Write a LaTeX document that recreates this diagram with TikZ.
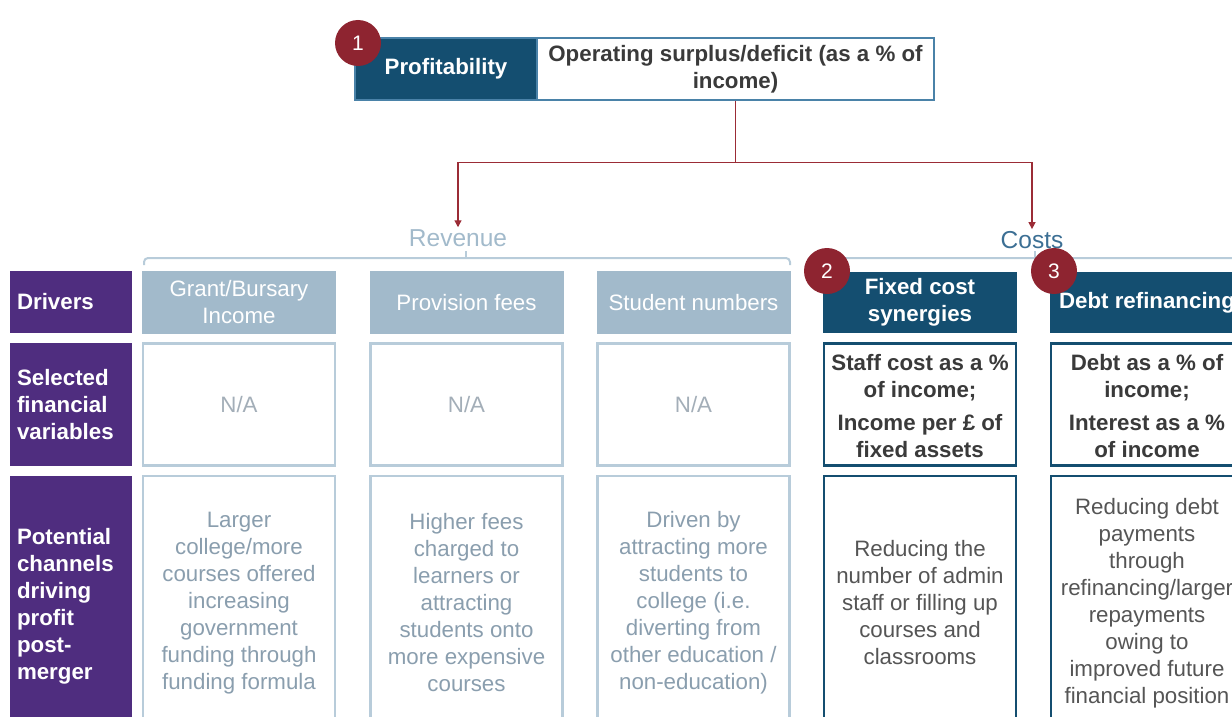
\documentclass[tikz,border=0pt]{standalone}
\usepackage{fontspec}
\setmainfont{Liberation Sans}
\usetikzlibrary{arrows.meta}
\definecolor{dblue}{HTML}{144E70}
\definecolor{topborder}{HTML}{4A82A8}
\definecolor{purp}{HTML}{4F2D7F}
\definecolor{cred}{HTML}{8E2430}
\definecolor{conred}{HTML}{9B2C36}
\definecolor{lblue}{HTML}{A2BACB}
\definecolor{lborder}{HTML}{B8CCDA}
\definecolor{ltext}{HTML}{8A9EAE}
\definecolor{natext}{HTML}{A3AEB8}
\definecolor{dtext}{HTML}{3A3A3A}
\definecolor{ctext}{HTML}{555555}
\definecolor{costlab}{HTML}{3C6F94}
\begin{document}
\begin{tikzpicture}[x=1pt,y=-1pt,
  txt/.style={font=\fontsize{22.3}{27}\selectfont, align=center, inner sep=0pt},
  btxt/.style={font=\fontsize{22.3}{27}\selectfont\bfseries, align=center, inner sep=0pt},
  purpbox/.style={btxt, fill=purp, text=white, minimum width=122pt, align=left, text width=108pt},
  revdrv/.style={txt, fill=lblue, text=white, minimum width=194pt, minimum height=63pt},
  revbox/.style={txt, draw=lborder, line width=2.5pt, fill=white, text=ltext, minimum width=192pt},
  costdrv/.style={btxt, fill=dblue, text=white, minimum width=194pt, minimum height=61pt},
  costbox/.style={draw=dblue, line width=2.8pt, fill=white, minimum width=192pt},
  badge/.style={circle, fill=cred, text=white, minimum size=46pt, inner sep=0pt, font=\fontsize{21}{24}\selectfont},
  conn/.style={draw=conred, line width=1.3pt, -{Triangle[width=7pt,length=7pt]}},
  brace/.style={draw=lborder, line width=2pt, rounded corners=4pt},
]
\useasboundingbox (0,0) rectangle (1232,717);
\clip (0,0) rectangle (1232,717);

% top boxes
\node[btxt, fill=dblue, text=white, draw=topborder, line width=1.5pt, minimum width=182pt, minimum height=62pt] (prof) at (446,69) {Profitability};
\node[btxt, fill=white, text=dtext, draw=topborder, line width=1.5pt, minimum width=397pt, minimum height=62pt] (opr) at (735.5,69) {Operating surplus/deficit (as a \% of\\income)};
\node[badge] (b1) at (358,43) {1};

% group labels
\node[font=\fontsize{24.5}{28}\selectfont, text=lblue, inner sep=2pt] (rev) at (458,238) {Revenue};
\node[font=\fontsize{24.5}{28}\selectfont, text=costlab, inner sep=2pt] (cost) at (1032,240) {Costs};

% connectors
\draw[conn] (opr.south) -- ++(0,62) -| (rev.north);
\draw[conn] (opr.south) -- ++(0,62) -| (cost.north);

% braces
\coordinate (rbl) at (144,265);
\coordinate (rbr) at (790,265);
\coordinate (rbt) at (466,251);
\coordinate (cbl) at (841,265);
\coordinate (cbr) at (1245,258);
\coordinate (cbt) at (1035,251);
\draw[brace] (rbl) -- (144,258) -- (790,258) -- (rbr);
\draw[brace] (rbt) -- (466,258);
\draw[brace] (cbl) -- (841,258) -- (cbr);
\draw[brace] (cbt) -- (1035,258);

% left labels
\node[purpbox, minimum height=62pt] (lab1) at (71,302) {Drivers};
\node[purpbox, minimum height=123pt] (lab2) at (71,404.5) {Selected\\financial\\variables};
\node[purpbox, minimum height=260pt] (lab3) at (71,606) {Potential\\channels\\driving\\profit\\post-\\merger};

% revenue drivers
\node[revdrv] (d1) at (239,302.5) {Grant/Bursary\\Income};
\node[revdrv] (d2) at (466.5,302.5) {Provision fees};
\node[revdrv] (d3) at (693.5,302.5) {Student numbers};

% revenue selected
\node[revbox, text=natext, minimum height=122pt] (s1) at (239,404.5) {N/A};
\node[revbox, text=natext, minimum height=122pt] (s2) at (466.5,404.5) {N/A};
\node[revbox, text=natext, minimum height=122pt] (s3) at (693.5,404.5) {N/A};

% revenue potential
\node[revbox, minimum height=260pt] (p1) at (239,606) {};
\node[revbox, minimum height=260pt] (p2) at (466.5,606) {};
\node[revbox, minimum height=260pt] (p3) at (693.5,606) {};
\node[txt, text=ltext] (p1t) at (239,603) {Larger\\college/more\\courses offered\\increasing\\government\\funding through\\funding formula};
\node[txt, text=ltext] (p2t) at (466.5,603) {Higher fees\\charged to\\learners or\\attracting\\students onto\\more expensive\\courses};
\node[txt, text=ltext] (p3t) at (693.5,603) {Driven by\\attracting more\\students to\\college (i.e.\\diverting from\\other education /\\non-education)};

% cost drivers
\node[costdrv] (d4) at (920,302.5) {Fixed cost\\synergies};
\node[costdrv] (d5) at (1147,302.5) {Debt refinancing};

% cost selected
\node[costbox, minimum height=122pt] (s4) at (920,404.5) {};
\node[costbox, minimum height=122pt] (s5) at (1147,404.5) {};
\node[btxt, text=dtext] (s4t) at (920,406) {Staff cost as a \%\\of income;\\[6pt]Income per £ of\\fixed assets};
\node[btxt, text=dtext] (s5t) at (1147,406) {Debt as a \% of\\income;\\[6pt]Interest as a \%\\of income};

% cost potential
\node[costbox, minimum height=260pt] (p4) at (920,606) {};
\node[costbox, minimum height=260pt] (p5) at (1147,606) {};
\node[txt, text=ctext] (p4t) at (920,603) {Reducing the\\number of admin\\staff or filling up\\courses and\\classrooms};
\node[txt, text=ctext] (p5t) at (1147,603) {Reducing debt\\payments\\through\\refinancing/larger\\repayments\\owing to\\improved future\\financial position};

% badges
\node[badge] (b2) at (827,271) {2};
\node[badge] (b3) at (1054,271) {3};
\end{tikzpicture}
\end{document}
